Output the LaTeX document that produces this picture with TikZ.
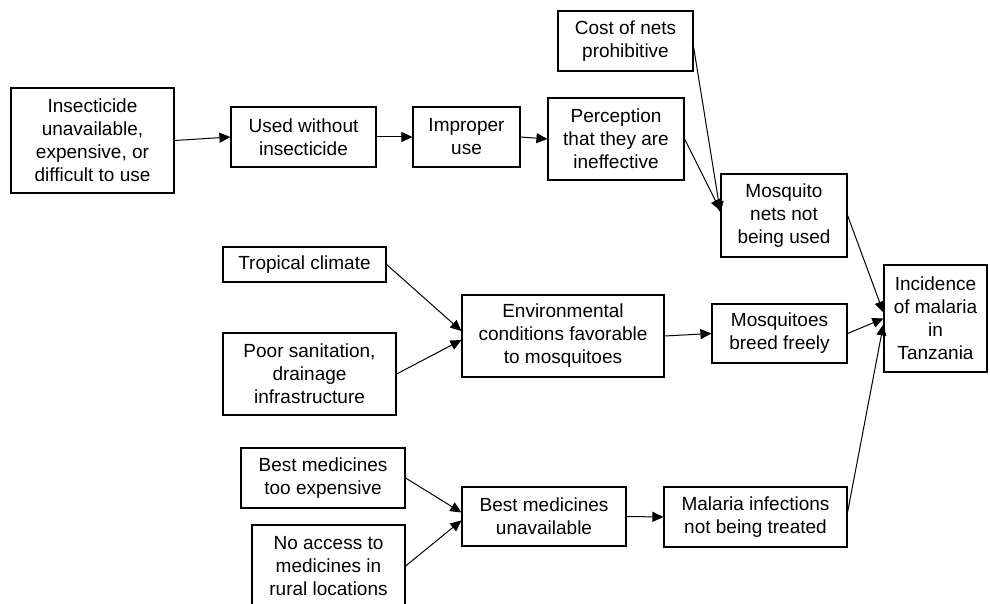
\documentclass[tikz,border=0pt]{standalone}
\usepackage{fontspec}
\setmainfont{Liberation Sans}
\usetikzlibrary{arrows.meta,calc}
\begin{document}
\begin{tikzpicture}[x=1pt,y=-1pt,
  box/.style={draw,line width=1.2pt,inner sep=0pt,align=center,
    font=\fontsize{19}{23}\selectfont},
  link/.style={line width=1pt,-{Triangle[length=11pt,width=10pt]}}]
\useasboundingbox (0,0) rectangle (990,604);
\clip (0,0) rectangle (990,604);

% --- bed nets chain ---
\node[box,minimum width=163pt,minimum height=105pt] (ins) at (92.5,140.5)
  {Insecticide\\unavailable,\\expensive, or\\difficult to use};
\node[box,minimum width=145pt,minimum height=60pt] (used) at (303.5,137)
  {Used without\\insecticide};
\node[box,minimum width=107pt,minimum height=60pt] (improper) at (466.5,137)
  {Improper\\use};
\node[box,minimum width=136pt,minimum height=82pt] (percep) at (616,139)
  {Perception\\that they are\\ineffective};
\node[box,minimum width=135pt,minimum height=60pt] (cost) at (625.5,41)
  {Cost of nets\\prohibitive};
\node[box,minimum width=126pt,minimum height=83pt] (nets) at (784,215.5)
  {Mosquito\\nets not\\being used};

% --- environment chain ---
\node[box,minimum width=163pt,minimum height=35pt] (trop) at (304.5,264.5)
  {Tropical climate};
\node[box,minimum width=173pt,minimum height=82pt] (poor) at (309.5,374)
  {Poor sanitation,\\drainage\\infrastructure};
\node[box,minimum width=202pt,minimum height=82pt] (env) at (563,336)
  {Environmental\\conditions favorable\\to mosquitoes};
\node[box,minimum width=135pt,minimum height=59pt] (breed) at (779.5,333.5)
  {Mosquitoes\\breed freely};

% --- outcome ---
\node[box,minimum width=103pt,minimum height=107pt] (inc) at (935.5,318.5)
  {Incidence\\of malaria\\in\\Tanzania};

% --- medicines chain ---
\node[box,minimum width=164pt,minimum height=60pt] (tooexp) at (323,478)
  {Best medicines\\too expensive};
\node[box,minimum width=153pt,minimum height=82pt] (noacc) at (328.5,566)
  {No access to\\medicines in\\rural locations};
\node[box,minimum width=164pt,minimum height=59pt] (unavail) at (544,516.5)
  {Best medicines\\unavailable};
\node[box,minimum width=183pt,minimum height=60pt] (treat) at (755.5,517)
  {Malaria infections\\not being treated};

% --- connectors ---
\draw[link] (ins.east) -- (used.west);
\draw[link] (used.east) -- (improper.west);
\draw[link] (improper.east) -- (percep.west);
\draw[link] (percep.east) -- ($(nets.west)+(0,-5)$);
\draw[link] ($(cost.east)+(0,6)$) -- ($(nets.west)+(0,-3)$);
\draw[link] (nets.east) -- ($(inc.west)+(0,-6)$);

\draw[link] (trop.east) -- ($(env.west)+(0,-5)$);
\draw[link] (poor.east) -- ($(env.west)+(0,4)$);
\draw[link] (env.east) -- (breed.west);
\draw[link] (breed.east) -- (inc.west);

\draw[link] (tooexp.east) -- ($(unavail.west)+(0,-4)$);
\draw[link] (noacc.east) -- ($(unavail.west)+(0,4)$);
\draw[link] (unavail.east) -- (treat.west);
\draw[link] ($(treat.east)+(0,-5)$) -- ($(inc.west)+(0,6)$);
\end{tikzpicture}
\end{document}
